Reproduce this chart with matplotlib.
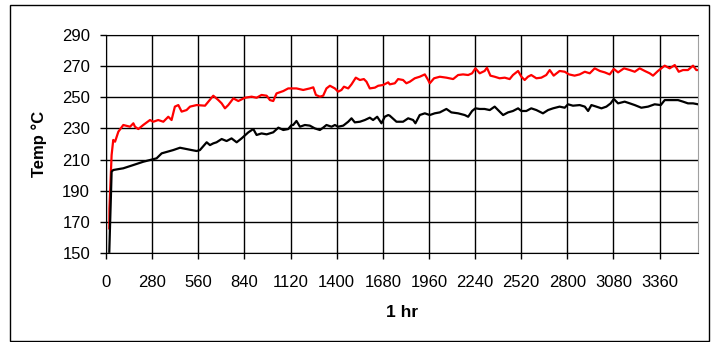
import matplotlib.pyplot as plt
from matplotlib.patches import Rectangle

# readings taken off the reference chart
red_t = [20, 21, 34, 44, 55, 65, 75, 105, 146, 166, 176, 196, 226, 267, 287, 317, 348, 378, 398, 418,
         439, 459, 489, 510, 550, 601, 621, 651, 682, 702, 722, 742, 773, 803, 843, 884, 914, 944, 975, 995,
         1015, 1035, 1076, 1106, 1156, 1197, 1237, 1258, 1274, 1298, 1318, 1338, 1359, 1389, 1409, 1429, 1444,
         1470, 1490, 1516, 1541, 1565, 1581, 1601, 1632, 1652, 1682, 1713, 1722, 1753, 1773, 1803, 1823, 1844,
         1874, 1904, 1935, 1955, 1965, 1991, 2026, 2066, 2107, 2137, 2167, 2198, 2222, 2242, 2268, 2298, 2312,
         2333, 2359, 2389, 2420, 2450, 2470, 2501, 2521, 2541, 2561, 2581, 2612, 2642, 2672, 2693, 2717, 2753,
         2784, 2810, 2844, 2875, 2906, 2936, 2966, 2997, 3027, 3057, 3082, 3108, 3144, 3179, 3209, 3239, 3270,
         3300, 3320, 3350, 3391, 3421, 3452, 3476, 3502, 3532, 3563, 3583, 3593]
red_temp = [165.8, 178.7, 212.9, 222.6, 221.5, 224.7, 227.9, 232.2, 231.1, 233.3, 231.1, 229.6, 232.2, 235.4,
            234.3, 235.4, 234.3, 237.5, 235.4, 244.0, 245.0, 240.8, 241.8, 244.0, 245.0, 244.6, 247.2, 251.0,
            248.2, 246.1, 242.9, 245.0, 249.3, 247.6, 249.7, 250.4, 249.7, 251.5, 251.0, 248.2, 247.6, 252.5,
            254.0, 255.7, 255.7, 254.7, 255.7, 256.4, 251.5, 250.4, 251.0, 255.7, 257.4, 255.7, 253.6, 254.7,
            256.8, 255.7, 258.3, 262.6, 261.1, 261.7, 260.0, 255.7, 256.2, 257.4, 257.9, 259.6, 258.3, 259.0,
            261.7, 261.1, 259.0, 260.0, 262.2, 263.2, 264.7, 261.1, 259.0, 262.2, 263.2, 262.6, 261.7, 264.3,
            264.7, 264.3, 265.4, 268.6, 265.4, 266.9, 269.0, 263.9, 263.2, 262.2, 262.6, 261.7, 264.3, 266.9,
            263.2, 261.1, 263.2, 264.3, 262.2, 262.6, 264.3, 267.5, 263.9, 266.9, 266.4, 264.7, 263.9, 264.7,
            266.4, 265.4, 268.6, 266.9, 266.0, 264.7, 268.2, 266.0, 268.6, 267.5, 266.4, 268.6, 266.9, 265.4,
            263.9, 266.9, 270.3, 268.6, 270.7, 266.4, 267.5, 267.5, 270.3, 267.5, 267.5]

black_t = [20, 24, 30, 34, 44, 105, 166, 226, 307, 338, 408, 449, 520, 550, 570, 611, 631, 651, 671, 702,
           732, 762, 793, 823, 864, 894, 914, 944, 975, 1015, 1046, 1076, 1106, 1126, 1136, 1156, 1177, 1207,
           1237, 1268, 1298, 1318, 1338, 1369, 1389, 1409, 1440, 1470, 1490, 1510, 1541, 1571, 1601, 1621, 1646,
           1672, 1692, 1713, 1722, 1763, 1803, 1834, 1864, 1878, 1904, 1935, 1965, 1995, 2026, 2066, 2096, 2137,
           2177, 2198, 2222, 2242, 2268, 2298, 2329, 2359, 2389, 2410, 2440, 2470, 2501, 2521, 2551, 2581, 2612,
           2652, 2683, 2713, 2753, 2784, 2804, 2834, 2875, 2906, 2926, 2946, 2976, 3007, 3037, 3063, 3082, 3108,
           3148, 3179, 3209, 3249, 3290, 3330, 3367, 3391, 3431, 3472, 3502, 3532, 3563, 3593]
black_temp = [150.8, 165.8, 187.2, 202.2, 203.3, 204.4, 206.5, 208.6, 210.8, 214.0, 216.1, 217.6, 216.1, 215.5,
              216.1, 221.1, 219.3, 220.4, 221.1, 223.2, 221.9, 223.6, 221.1, 223.6, 227.5, 229.6, 225.8, 226.8,
              226.2, 227.5, 230.5, 229.0, 229.6, 232.2, 232.2, 234.8, 231.1, 232.2, 231.8, 230.0, 229.0, 230.5,
              232.2, 231.1, 232.2, 231.1, 231.8, 234.3, 236.5, 233.9, 234.3, 235.4, 236.9, 235.4, 237.5, 233.3,
              237.5, 238.6, 238.2, 234.3, 234.3, 236.5, 235.4, 233.3, 238.6, 239.7, 238.6, 239.7, 240.3, 242.5,
              240.3, 239.7, 238.6, 237.5, 241.2, 242.9, 242.5, 242.5, 241.8, 244.0, 240.8, 238.6, 240.3, 241.2,
              242.9, 241.2, 241.2, 242.9, 241.8, 239.7, 241.8, 242.9, 244.0, 243.3, 245.5, 244.6, 245.0, 244.0,
              241.2, 245.0, 244.0, 242.9, 244.0, 246.1, 248.9, 246.1, 247.2, 246.1, 245.0, 243.3, 244.0, 245.5,
              245.0, 248.2, 248.2, 248.2, 247.2, 246.1, 246.1, 245.5]

x_ticks = list(range(0, 3361, 280))
y_ticks = list(range(150, 291, 20))

plt.rcParams['font.family'] = ['Liberation Sans', 'DejaVu Sans']

fig = plt.figure(figsize=(7.11, 3.42), dpi=100)
ax = fig.add_axes([106 / 711, 1 - 253 / 342, 592 / 711, 218 / 342])

# outer chart frame
fig.patches.append(Rectangle((10 / 711, 1 / 342), 699 / 711, 336 / 342, transform=fig.transFigure,
                             fill=False, edgecolor='black', linewidth=1))

ax.plot(red_t, red_temp, color='#ff0000', linewidth=1.6, zorder=3)
ax.plot(black_t, black_temp, color='black', linewidth=1.6, zorder=4)

ax.set_xlim(0, 3593)
ax.set_ylim(150, 290)
ax.set_xticks(x_ticks)
ax.set_yticks(y_ticks)
ax.grid(True, color='black', linewidth=1)
ax.set_axisbelow(True)

ax.spines['right'].set_color('#a0a0a0')
for s in ['left', 'bottom', 'top']:
    ax.spines[s].set_color('black')

ax.tick_params(axis='x', labelsize=12, length=4.5, width=1, pad=11)
ax.tick_params(axis='y', labelsize=12, length=4.5, width=1, pad=7)

ax.set_ylabel('Temp °C', fontsize=12, fontweight='bold', labelpad=11)
ax.set_xlabel('1 hr', fontsize=12.5, fontweight='bold', labelpad=11)

fig.savefig('out.png', dpi=100)
